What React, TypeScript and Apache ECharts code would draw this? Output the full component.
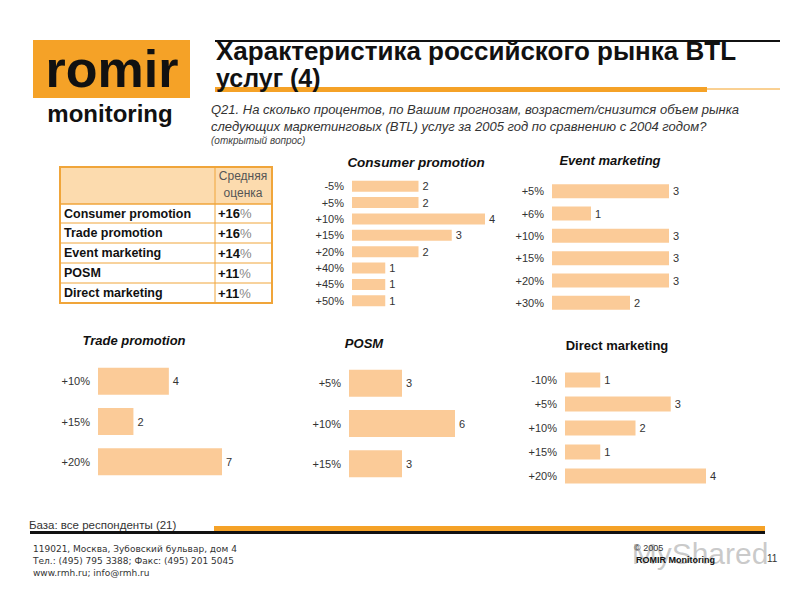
import React, { useEffect, useRef } from "react";
import * as echarts from "echarts";

const consumerCats = ["-5%", "+5%", "+10%", "+15%", "+20%", "+40%", "+45%", "+50%"];
const consumerVals = [2, 2, 4, 3, 2, 1, 1, 1];
const eventCats = ["+5%", "+6%", "+10%", "+15%", "+20%", "+30%"];
const eventVals = [3, 1, 3, 3, 3, 2];
const tradeCats = ["+10%", "+15%", "+20%"];
const tradeVals = [4, 2, 7];
const posmCats = ["+5%", "+10%", "+15%"];
const posmVals = [3, 6, 3];
const directCats = ["-10%", "+5%", "+10%", "+15%", "+20%"];
const directVals = [1, 3, 2, 1, 4];

const tableRows = ["Consumer promotion", "Trade promotion", "Event marketing", "POSM", "Direct marketing"];
const tableAvg = ["+16", "+16", "+14", "+11", "+11"];

const FONT = "'Liberation Sans', Arial, sans-serif";
const BAR = "#FBCB98";
const ORANGE = "#F5A227";

const panels = [
  { title: "Consumer promotion", italic: true, size: 13.5, tx: 416, ty: 162, cats: consumerCats, vals: consumerVals, left: 352, top: 178, width: 133, height: 131, barW: 11 },
  { title: "Event marketing", italic: true, size: 13, tx: 610, ty: 160, cats: eventCats, vals: eventVals, left: 552, top: 180, width: 117, height: 134, barW: 14 },
  { title: "Trade promotion", italic: true, size: 13, tx: 134, ty: 340, cats: tradeCats, vals: tradeVals, left: 98, top: 361, width: 124, height: 121, barW: 27 },
  { title: "POSM", italic: true, size: 13, tx: 364, ty: 343, cats: posmCats, vals: posmVals, left: 349, top: 363, width: 106, height: 121, barW: 27 },
  { title: "Direct marketing", italic: false, size: 13, tx: 617, ty: 345, cats: directCats, vals: directVals, left: 565, top: 368, width: 141, height: 120, barW: 15 },
];

export default function App() {
  const ref = useRef<HTMLDivElement>(null);
  useEffect(() => {
    if (!ref.current) return;
    const chart = echarts.init(ref.current, undefined, { renderer: "svg" });

    const grids = panels.map((p) => ({ left: p.left, top: p.top, width: p.width, height: p.height, containLabel: false }));
    const xAxes = panels.map((p, i) => ({
      type: "value", gridIndex: i, min: 0, max: Math.max(...p.vals), show: false,
    }));
    const yAxes = panels.map((p, i) => ({
      type: "category", gridIndex: i, data: p.cats, inverse: true,
      axisLine: { show: false }, axisTick: { show: false }, splitLine: { show: false },
      axisLabel: { fontFamily: FONT, fontSize: 11, color: "#333", margin: 8 },
    }));
    const series = panels.map((p, i) => ({
      type: "bar", xAxisIndex: i, yAxisIndex: i, data: p.vals, barWidth: p.barW,
      itemStyle: { color: BAR },
      label: { show: true, position: "right", distance: 4, fontFamily: FONT, fontSize: 11, color: "#333" },
      silent: true,
    }));

    const graphic: any[] = [];
    // Logo
    graphic.push({ type: "rect", shape: { x: 33, y: 40, width: 157, height: 58 }, style: { fill: ORANGE } });
    graphic.push({ type: "text", x: 112, y: 69, style: { text: "romir", font: `900 52px ${FONT}`, fill: "#111", textAlign: "center", textVerticalAlign: "middle" } });
    graphic.push({ type: "text", x: 110, y: 113, style: { text: "monitoring", font: `bold 24px ${FONT}`, fill: "#111", textAlign: "center", textVerticalAlign: "middle" } });

    // Title lines
    graphic.push({ type: "line", shape: { x1: 215, y1: 41, x2: 780, y2: 41 }, style: { stroke: "#111", lineWidth: 2 } });
    graphic.push({ type: "rect", shape: { x: 215, y: 87, width: 492, height: 5 }, style: { fill: ORANGE } });
    graphic.push({ type: "line", shape: { x1: 707, y1: 89, x2: 780, y2: 89 }, style: { stroke: ORANGE, lineWidth: 1 } });
    graphic.push({ type: "text", x: 216, y: 51, style: { text: "Характеристика российского рынка BTL", font: `bold 26px ${FONT}`, fill: "#111", textAlign: "left", textVerticalAlign: "middle" } });
    graphic.push({ type: "text", x: 216, y: 78, style: { text: "услуг (4)", font: `bold 25px ${FONT}`, fill: "#111", textAlign: "left", textVerticalAlign: "middle" } });

    // Question
    graphic.push({ type: "text", x: 211, y: 109, style: { text: "Q21. На сколько процентов, по Вашим прогнозам, возрастет/снизится объем рынка", font: `italic 13px ${FONT}`, fill: "#333", textVerticalAlign: "middle" } });
    graphic.push({ type: "text", x: 211, y: 126, style: { text: "следующих маркетинговых (BTL) услуг за 2005 год по сравнению с 2004 годом?", font: `italic 13px ${FONT}`, fill: "#333", textVerticalAlign: "middle" } });
    graphic.push({ type: "text", x: 211, y: 140, style: { text: "(открытый вопрос)", font: `italic 10px ${FONT}`, fill: "#444", textVerticalAlign: "middle" } });

    // Table
    const tX = 60, tY = 167, tW = 212, colX = 215;
    const rowYs = [204, 223, 243, 263, 283, 303];
    graphic.push({ type: "rect", shape: { x: tX, y: tY, width: tW, height: rowYs[0] - tY }, style: { fill: "#FCDBAE" } });
    graphic.push({ type: "rect", shape: { x: tX, y: tY, width: tW, height: rowYs[5] - tY }, style: { fill: "none", stroke: "#F0A53A", lineWidth: 2 } });
    for (let i = 0; i < 5; i++) {
      graphic.push({ type: "line", shape: { x1: tX, y1: rowYs[i], x2: tX + tW, y2: rowYs[i] }, style: { stroke: "#F0A53A", lineWidth: i === 0 ? 1.5 : 1 } });
    }
    graphic.push({ type: "line", shape: { x1: colX, y1: tY, x2: colX, y2: rowYs[5] }, style: { stroke: "#F0A53A", lineWidth: 1 } });
    graphic.push({ type: "text", x: 243, y: 176, style: { text: "Средняя", font: `12px ${FONT}`, fill: "#555", textAlign: "center", textVerticalAlign: "middle" } });
    graphic.push({ type: "text", x: 243, y: 193, style: { text: "оценка", font: `12px ${FONT}`, fill: "#555", textAlign: "center", textVerticalAlign: "middle" } });
    tableRows.forEach((r, i) => {
      const cy = (rowYs[i] + rowYs[i + 1]) / 2;
      graphic.push({ type: "text", x: 64, y: cy, style: { text: r, font: `bold 12.5px ${FONT}`, fill: "#111", textVerticalAlign: "middle" } });
      graphic.push({
        type: "text", x: 218, y: cy,
        style: {
          text: `{b|${tableAvg[i]}}{p|%}`, textVerticalAlign: "middle",
          rich: { b: { font: `bold 13px ${FONT}`, fill: "#111" }, p: { font: `13px ${FONT}`, fill: "#888" } },
        },
      });
    });

    // Panel titles
    panels.forEach((p) => {
      graphic.push({ type: "text", x: p.tx, y: p.ty, style: { text: p.title, font: `${p.italic ? "italic " : ""}bold ${p.size}px ${FONT}`, fill: "#111", textAlign: "center", textVerticalAlign: "middle" } });
    });

    // Footer
    graphic.push({ type: "text", x: 29, y: 525, style: { text: "База: все респонденты (21)", font: `11.5px ${FONT}`, fill: "#333", textVerticalAlign: "middle" } });
    graphic.push({ type: "rect", shape: { x: 214, y: 526, width: 551, height: 5 }, style: { fill: ORANGE } });
    graphic.push({ type: "rect", shape: { x: 30, y: 531, width: 735, height: 3 }, style: { fill: "#111" } });
    const addr = ["119021, Москва, Зубовский бульвар, дом 4", "Тел.: (495) 795 3388; Факс: (495) 201 5045", "www.rmh.ru; info@rmh.ru"];
    addr.forEach((a, i) => {
      graphic.push({ type: "text", x: 33, y: 549 + i * 12, style: { text: a, font: `9px 'DejaVu Sans', Verdana, sans-serif`, fill: "#333", textVerticalAlign: "middle" } });
    });
    graphic.push({ type: "text", x: 700, y: 553, style: { text: "MyShared", font: `30px ${FONT}`, fill: "rgba(150,150,150,0.5)", textAlign: "center", textVerticalAlign: "middle" } });
    graphic.push({ type: "text", x: 634, y: 548, style: { text: "© 2005", font: `9px ${FONT}`, fill: "#333", textVerticalAlign: "middle" } });
    graphic.push({ type: "text", x: 636, y: 560, style: { text: "ROMIR Monitoring", font: `bold 9px ${FONT}`, fill: "#111", textVerticalAlign: "middle" } });
    graphic.push({ type: "text", x: 767, y: 558, style: { text: "11", font: `10px ${FONT}`, fill: "#333", textVerticalAlign: "middle" } });

    chart.setOption({
      animation: false,
      backgroundColor: "#fff",
      grid: grids,
      xAxis: xAxes,
      yAxis: yAxes,
      series,
      graphic,
    });
    return () => chart.dispose();
  }, []);
  return <div ref={ref} style={{ position: "fixed", left: 0, top: 0, width: 800, height: 600 }} />;
}
